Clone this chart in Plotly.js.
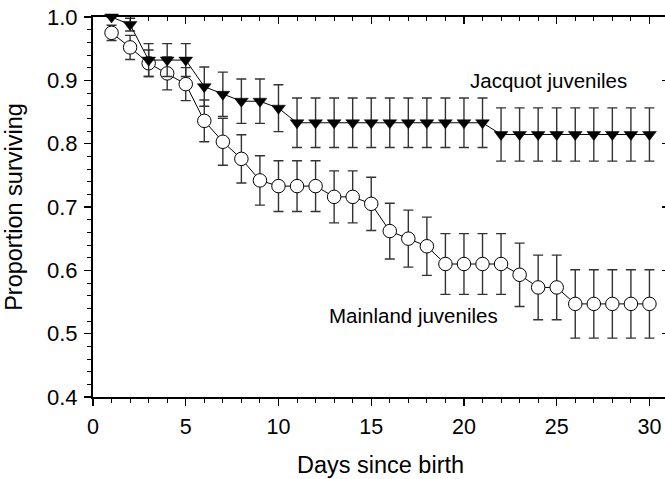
<!DOCTYPE html>
<html>
<head>
<meta charset="utf-8">
<script src="https://cdn.plot.ly/plotly-3.0.1.min.js"></script>
<style>
html,body{margin:0;padding:0;overflow:hidden;background:#fff;}
#chart{width:680px;height:479px;}
</style>
</head>
<body>
<div id="chart"></div>
<script>
var days = [1,2,3,4,5,6,7,8,9,10,11,12,13,14,15,16,17,18,19,20,21,22,23,24,25,26,27,28,29,30];

var mainland = [0.975,0.952,0.927,0.911,0.894,0.836,0.803,0.776,0.742,0.733,0.733,0.733,0.716,0.716,0.705,
                0.662,0.650,0.638,0.610,0.610,0.610,0.610,0.593,0.573,0.573,0.547,0.547,0.547,0.547,0.547];
var mainlandErr = [0.012,0.019,0.021,0.026,0.026,0.033,0.037,0.038,0.039,0.040,0.040,0.040,0.041,0.041,0.042,
                   0.044,0.045,0.046,0.048,0.048,0.048,0.048,0.050,0.051,0.051,0.054,0.054,0.054,0.054,0.054];

var jacquot = [1.0,0.988,0.932,0.932,0.932,0.890,0.878,0.867,0.867,0.856,0.833,0.833,0.833,0.833,0.833,
               0.833,0.833,0.833,0.833,0.833,0.833,0.8145,0.8145,0.8145,0.8145,0.8145,0.8145,0.8145,0.8145,0.8145];
var jacquotErr = [0,0.010,0.026,0.026,0.026,0.031,0.035,0.035,0.035,0.037,0.039,0.039,0.039,0.039,0.039,
                  0.039,0.039,0.039,0.039,0.039,0.039,0.042,0.042,0.042,0.042,0.042,0.042,0.042,0.042,0.042];

var labelJacquot = "Jacquot juveniles";
var labelMainland = "Mainland juveniles";
var xTitle = "Days since birth";
var yTitle = "Proportion surviving";

var FONT = "Liberation Sans, Arial, Helvetica, sans-serif";

var errStyle = {type:'data', visible:true, thickness:1.4, width:5, color:'#333'};

var traces = [
  {
    x: days, y: mainland, type:'scatter', mode:'lines+markers', name: labelMainland,
    line:{color:'#000', width:1},
    marker:{symbol:'circle', size:13.5, color:'#fff', line:{color:'#000', width:1}},
    error_y: Object.assign({array: mainlandErr}, errStyle),
    cliponaxis:false
  },
  {
    x: days, y: jacquot, type:'scatter', mode:'lines+markers', name: labelJacquot,
    line:{color:'#000', width:1},
    marker:{symbol:'triangle-down', size:12, color:'#000', line:{color:'#000', width:0.5}},
    error_y: Object.assign({array: jacquotErr}, errStyle),
    cliponaxis:false
  },
  { x: [], y: [], xaxis:'x2', yaxis:'y2', type:'scatter', mode:'markers', showlegend:false, hoverinfo:'skip' }
];

var layout = {
  width:680, height:479,
  margin:{l:93, r:12, t:17, b:82},
  paper_bgcolor:'#fff', plot_bgcolor:'#fff',
  showlegend:false,
  font:{family:FONT, color:'#000', size:22},
  xaxis:{
    range:[0,31], tick0:0, dtick:5, ticks:'outside', ticklen:7, tickwidth:1.2, tickcolor:'#000',
    minor:{dtick:1, ticks:'outside', ticklen:4, tickwidth:1, tickcolor:'#000', showgrid:false},
    showline:true, linewidth:2, linecolor:'#000', showgrid:false, zeroline:false,
    ticklabelstandoff:2,
    tickfont:{family:FONT, size:21.5, color:'#000'},
    title:{text:xTitle, font:{family:FONT, size:23.5, color:'#000'}, standoff:19}
  },
  xaxis2:{
    overlaying:'x', side:'top', anchor:'y', range:[0,31], tick0:0, dtick:5, ticks:'inside', ticklen:7, tickwidth:1.2, tickcolor:'#000',
    minor:{dtick:1, ticks:'inside', ticklen:4, tickwidth:1, tickcolor:'#000', showgrid:false},
    showline:true, linewidth:2, linecolor:'#000', showgrid:false, zeroline:false, showticklabels:false
  },
  yaxis:{
    range:[0.4,1.0], tick0:0.4, dtick:0.1, tickformat:'.1f', ticks:'outside', ticklen:7, tickwidth:1.2, tickcolor:'#000',
    minor:{dtick:0.02, ticks:'outside', ticklen:4, tickwidth:1, tickcolor:'#000', showgrid:false},
    showline:true, linewidth:2, linecolor:'#000', showgrid:false, zeroline:false,
    ticklabelstandoff:2,
    tickfont:{family:FONT, size:22, color:'#000'},
    title:{text:yTitle, font:{family:FONT, size:23.5, color:'#000'}, standoff:18}
  },
  yaxis2:{
    overlaying:'y', side:'right', anchor:'x', range:[0.4,1.0], tick0:0.4, dtick:0.1, ticks:'inside', ticklen:6, tickwidth:1.2, tickcolor:'#000',
    showline:true, linewidth:2, linecolor:'#000', showgrid:false, zeroline:false, showticklabels:false
  },
  annotations:[
    {x:24.55, y:0.899, xref:'x', yref:'y', text:labelJacquot, showarrow:false, xanchor:'center', yanchor:'middle',
     font:{family:FONT, size:20.5, color:'#000'}},
    {x:17.3, y:0.529, xref:'x', yref:'y', text:labelMainland, showarrow:false, xanchor:'center', yanchor:'middle',
     font:{family:FONT, size:20.5, color:'#000'}}
  ]
};

Plotly.newPlot('chart', traces, layout, {staticPlot:true, displayModeBar:false});
</script>
</body>
</html>
